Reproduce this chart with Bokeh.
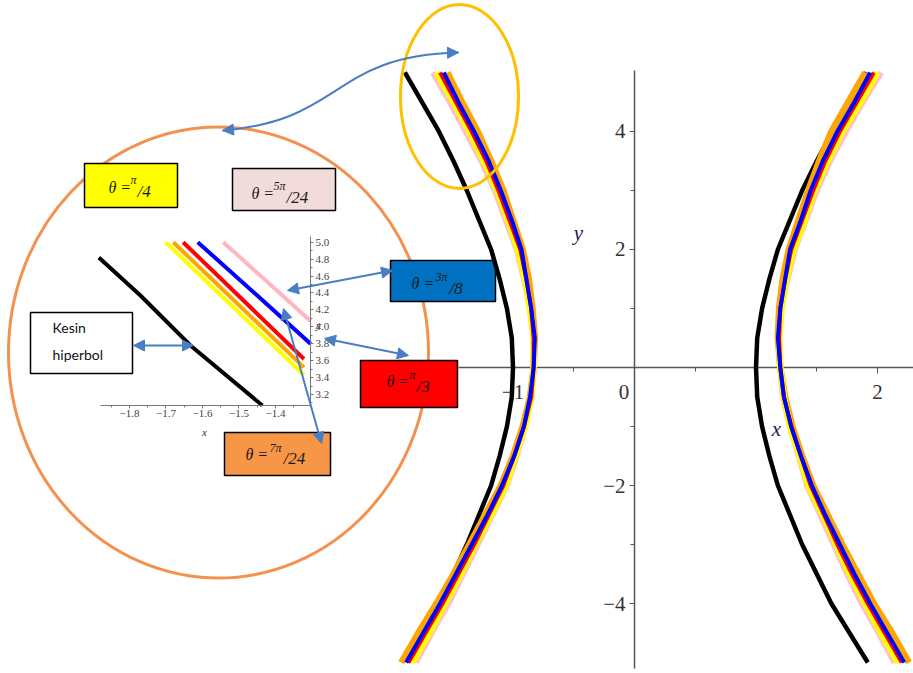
from bokeh.plotting import figure
from bokeh.models import Range1d, LinearAxis, FixedTicker, Label, Arrow, NormalHead
from bokeh.embed import file_html
from bokeh.resources import INLINE

# ---------------- main plot data ----------------
y_main = [-5, -4.5, -4, -3.5, -3, -2.5, -2, -1.5, -1, -0.5, 0, 0.5, 1, 1.5, 2, 2.5, 3, 3.5, 4, 4.5, 5]

exact_left = [-1.87, -1.74, -1.61, -1.49, -1.38, -1.28, -1.18, -1.11, -1.05, -1.01, -1.00,
              -1.01, -1.05, -1.11, -1.18, -1.28, -1.38, -1.49, -1.61, -1.75, -1.89]
exact_right = [1.92, 1.77, 1.62, 1.50, 1.38, 1.28, 1.18, 1.11, 1.05, 1.01, 1.00,
               1.01, 1.05, 1.11, 1.18, 1.28, 1.38, 1.50, 1.63, 1.77, 1.91]

pink_left = [-1.80, -1.67, -1.53, -1.41, -1.29, -1.17, -1.05, -0.97, -0.90, -0.85, -0.83,
             -0.83, -0.86, -0.91, -0.97, -1.06, -1.15, -1.26, -1.39, -1.52, -1.66]
yellow_left = [-1.83, -1.69, -1.56, -1.43, -1.31, -1.18, -1.06, -0.98, -0.90, -0.85, -0.83,
               -0.83, -0.86, -0.90, -0.96, -1.04, -1.13, -1.24, -1.36, -1.49, -1.63]
red_left = [-1.86, -1.72, -1.58, -1.45, -1.32, -1.20, -1.08, -0.99, -0.91, -0.85, -0.83,
            -0.83, -0.85, -0.89, -0.94, -1.03, -1.12, -1.22, -1.34, -1.47, -1.60]
blue_left = [-1.88, -1.74, -1.60, -1.47, -1.34, -1.21, -1.09, -0.99, -0.91, -0.86, -0.83,
             -0.82, -0.85, -0.89, -0.93, -1.01, -1.10, -1.20, -1.32, -1.45, -1.57]
orange_left = [-1.92, -1.78, -1.63, -1.49, -1.36, -1.23, -1.10, -1.00, -0.92, -0.86, -0.83,
               -0.82, -0.84, -0.87, -0.92, -1.00, -1.08, -1.18, -1.29, -1.42, -1.54]

pink_right = [2.14, 2.01, 1.87, 1.75, 1.64, 1.53, 1.42, 1.35, 1.28, 1.22, 1.20,
              1.19, 1.21, 1.26, 1.32, 1.41, 1.50, 1.61, 1.74, 1.88, 2.03]
yellow_right = [2.17, 2.03, 1.90, 1.77, 1.66, 1.55, 1.43, 1.36, 1.28, 1.23, 1.20,
                1.19, 1.21, 1.25, 1.31, 1.40, 1.48, 1.59, 1.71, 1.86, 2.00]
red_right = [2.20, 2.06, 1.92, 1.79, 1.67, 1.56, 1.45, 1.37, 1.29, 1.23, 1.20,
             1.19, 1.20, 1.24, 1.29, 1.38, 1.47, 1.57, 1.69, 1.83, 1.97]
blue_right = [2.22, 2.08, 1.94, 1.81, 1.69, 1.57, 1.46, 1.37, 1.29, 1.23, 1.20,
              1.18, 1.20, 1.24, 1.28, 1.37, 1.45, 1.55, 1.67, 1.81, 1.94]
orange_right = [2.26, 2.12, 1.97, 1.84, 1.71, 1.59, 1.47, 1.38, 1.30, 1.24, 1.20,
                1.18, 1.19, 1.22, 1.27, 1.35, 1.43, 1.52, 1.62, 1.76, 1.90]

main_x_ticks = [-1, 0, 1, 2]
main_x_labels = ["\u22121", "0\u2003", "", "2"]
main_y_ticks = [-4, -2, 0, 2, 4]
main_y_labels = ["\u22124", "\u22122", "", "2", "4"]

# ---------------- inset (zoomed) data ----------------
inset_exact_x = [-1.884, -1.77, -1.633, -1.436]
inset_exact_y = [4.82, 4.37, 3.78, 3.07]
inset_yellow_x = [-1.701, -1.322]
inset_yellow_y = [5.0, 3.43]
inset_orange_x = [-1.680, -1.322]
inset_orange_y = [5.0, 3.52]
inset_red_x = [-1.653, -1.322]
inset_red_y = [5.0, 3.62]
inset_blue_x = [-1.613, -1.45, -1.304]
inset_blue_y = [5.0, 4.37, 3.80]
inset_pink_x = [-1.543, -1.304]
inset_pink_y = [5.0, 4.07]

inset_x_ticks = [-1.8, -1.7, -1.6, -1.5, -1.4]
inset_x_labels = ["\u22121.8", "\u22121.7", "\u22121.6", "\u22121.5", "\u22121.4"]
inset_y_ticks = [3.2, 3.4, 3.6, 3.8, 4.0, 4.2, 4.4, 4.6, 4.8, 5.0]
inset_y_labels = ["3.2", "3.4", "3.6", "3.8", "4.0", "4.2", "4.4", "4.6", "4.8", "5.0"]

# ---------------- figure ----------------
W, H = 913, 673
p = figure(width=W, height=H, output_backend="svg", toolbar_location=None,
           x_range=Range1d(-5.2181, 2.2963), y_range=Range1d(-5.1864, 6.2203),
           x_axis_location=None, y_axis_location=None, min_border=0,
           outline_line_color=None, background_fill_color="white")
for g in p.grid:
    g.visible = False

p.extra_x_ranges = {"ix": Range1d(-2.1534, 0.3479), "px": Range1d(0, 913)}
p.extra_y_ranges = {"iy": Range1d(-0.0979, 7.8572), "py": Range1d(673, 0)}

PG = dict(x_range_name="px", y_range_name="py")
IN = dict(x_range_name="ix", y_range_name="iy")
BLUE_ARROW = "#4A7EC2"

# big orange circle around the inset
p.ellipse(x=[218], y=[352], width=[420], height=[451], width_units="screen", height_units="screen",
          fill_color=None, line_color="#F4914E", line_width=3, **PG)

# ---------------- inset axes ----------------
ix_axis = LinearAxis(fixed_location=3.07, bounds=(-1.879, -1.304),
                     ticker=FixedTicker(ticks=inset_x_ticks,
                                        minor_ticks=[-1.85, -1.75, -1.65, -1.55, -1.45, -1.35]),
                     major_label_overrides={t: s for t, s in zip(inset_x_ticks, inset_x_labels)},
                     axis_line_color="#777777", major_tick_line_color="#777777", minor_tick_line_color="#777777",
                     major_tick_in=0, major_tick_out=3, minor_tick_in=0, minor_tick_out=2,
                     major_label_text_font="Liberation Serif", major_label_text_font_size="11px",
                     major_label_text_color="#444444", major_label_standoff=2, **IN)
p.add_layout(ix_axis, "below")
iy_axis = LinearAxis(fixed_location=-1.304, bounds=(3.07, 5.07),
                     ticker=FixedTicker(ticks=inset_y_ticks,
                                        minor_ticks=[3.1, 3.3, 3.5, 3.7, 3.9, 4.1, 4.3, 4.5, 4.7, 4.9]),
                     major_label_overrides={t: s for t, s in zip(inset_y_ticks, inset_y_labels)},
                     axis_line_color="#777777", major_tick_line_color="#777777", minor_tick_line_color="#777777",
                     major_tick_in=0, major_tick_out=3, minor_tick_in=0, minor_tick_out=2,
                     major_label_text_font="Liberation Serif", major_label_text_font_size="11px",
                     major_label_text_color="#444444", major_label_standoff=2, **IN)
p.add_layout(iy_axis, "right")

# inset curves
p.line(inset_exact_x, inset_exact_y, line_color="black", line_width=4, **IN)
p.line(inset_yellow_x, inset_yellow_y, line_color="#FFFF00", line_width=4, **IN)
p.line(inset_orange_x, inset_orange_y, line_color="#FFA500", line_width=4, **IN)
p.line(inset_red_x, inset_red_y, line_color="#FF0000", line_width=4, **IN)
p.line(inset_blue_x, inset_blue_y, line_color="#0000FF", line_width=4, **IN)
p.line(inset_pink_x, inset_pink_y, line_color="#FFB6C1", line_width=4, **IN)

# ---------------- main axes ----------------
mx_axis = LinearAxis(fixed_location=0, bounds=(-1.45, 2.3),
                     ticker=FixedTicker(ticks=main_x_ticks, minor_ticks=[-0.5, 0.5, 1.5]),
                     major_label_overrides={t: s for t, s in zip(main_x_ticks, main_x_labels)},
                     axis_line_color="#555555", axis_line_width=1.5,
                     major_tick_line_color="#555555", minor_tick_line_color="#555555",
                     major_tick_in=0, major_tick_out=6, minor_tick_in=0, minor_tick_out=4,
                     major_label_text_font="Liberation Serif", major_label_text_font_size="21px",
                     major_label_text_color="#333333", major_label_standoff=6)
p.add_layout(mx_axis, "below")
my_axis = LinearAxis(fixed_location=0, bounds=(-5.1, 5.03),
                     ticker=FixedTicker(ticks=main_y_ticks, minor_ticks=[-3, -1, 1, 3]),
                     major_label_overrides={t: s for t, s in zip(main_y_ticks, main_y_labels)},
                     axis_line_color="#555555", axis_line_width=1.5,
                     major_tick_line_color="#555555", minor_tick_line_color="#555555",
                     major_tick_in=0, major_tick_out=5, minor_tick_in=0, minor_tick_out=4,
                     major_label_text_font="Liberation Serif", major_label_text_font_size="21px",
                     major_label_text_color="#333333", major_label_standoff=4)
p.add_layout(my_axis, "left")

# ---------------- main curves ----------------
for xs in (exact_left, exact_right):
    p.line(xs, y_main, line_color="black", line_width=4.5, level="annotation")
for xs_l, xs_r, col, lw in ((pink_left, pink_right, "#FFC0CB", 6),
                            (orange_left, orange_right, "#FFA500", 6.5),
                            (yellow_left, yellow_right, "#FFFF00", 6.5),
                            (red_left, red_right, "#FF0000", 4),
                            (blue_left, blue_right, "#0000FF", 4)):
    p.line(xs_l, y_main, line_color=col, line_width=lw, level="annotation")
    p.line(xs_r, y_main, line_color=col, line_width=lw, level="annotation")

# yellow highlight ellipse
p.ellipse(x=[459], y=[96], width=[118], height=[184], width_units="screen", height_units="screen",
          fill_color=None, line_color="#FFC000", line_width=3, level="annotation", **PG)

# curved double arrow
p.bezier(x0=[222], y0=[130], x1=[458], y1=[52], cx0=[345], cy0=[120], cx1=[330], cy1=[55],
         line_color=BLUE_ARROW, line_width=2, level="annotation", **PG)

def head():
    return NormalHead(size=11, fill_color=BLUE_ARROW, line_color=BLUE_ARROW)

p.add_layout(Arrow(end=head(), x_start=234, y_start=129, x_end=222, y_end=130,
                   line_color=BLUE_ARROW, line_width=2, **PG))
p.add_layout(Arrow(end=head(), x_start=446, y_start=52.3, x_end=458, y_end=52,
                   line_color=BLUE_ARROW, line_width=2, **PG))

# ---------------- label boxes ----------------
box_left = [84, 232, 390, 360, 224, 30]
box_right = [177, 335, 495, 457, 330, 132]
box_top = [163, 168, 260, 360, 432, 312]
box_bottom = [207, 210, 301, 407, 475, 373]
box_fill = ["#FFFF00", "#F2DCDB", "#0070C0", "#FF0000", "#F79646", "#FFFFFF"]
p.quad(left=box_left, right=box_right, top=box_top, bottom=box_bottom,
       fill_color=box_fill, line_color="black", line_width=1.5, **PG)

def lab(x, y, text, size, style="italic", font="Liberation Serif", color="#1a1a1a", align="left",
        baseline="alphabetic"):
    p.add_layout(Label(x=x, y=y, text=text, text_font=font, text_font_size=f"{size}px",
                       text_font_style=style, text_color=color, text_align=align,
                       text_baseline=baseline, **PG))

# theta labels: (theta x, baseline, superscript, sup x, sup baseline, tail, tail x, tail baseline)
theta_items = [
    (108, 187, "\u03c0", 130, 179, "/4", 137, 191),
    (251, 193, "5\u03c0", 273, 185, "/24", 286, 197),
    (411, 283, "3\u03c0", 435, 276, "/8", 449, 288),
    (386, 381, "\u03c0", 409, 374, "/3", 416, 386),
    (245, 454, "7\u03c0", 269, 447, "/24", 283, 458),
]
for tx, tb, sup, sx, sb, tail, qx, qb in theta_items:
    lab(tx, tb, "\u03b8 =", 16)
    lab(sx, sb, sup, 12)
    lab(qx, qb, tail, 17)

lab(52, 327, "Kesin", 14, style="normal", font="Lato", color="#111111")
lab(52, 354, "hiperbol", 14, style="normal", font="Lato", color="#111111")

# straight double arrows
for xs, ys, xe, ye in ((133, 345, 193, 345),
                       (287, 290, 392, 270),
                       (324, 338, 408, 355),
                       (283, 308, 321, 443)):
    p.add_layout(Arrow(start=head(), end=head(), x_start=xs, y_start=ys, x_end=xe, y_end=ye,
                       line_color=BLUE_ARROW, line_width=2, **PG))

# axis names
lab(578, 232, "y", 21, color="#202050", align="center")
lab(776, 428, "x", 21, color="#202050", align="center")
lab(204, 431, "x", 11, color="#333355", align="center")
lab(318, 324, "y", 11, color="#333355", align="center")

open("out.html", "w").write(file_html(p, INLINE))
